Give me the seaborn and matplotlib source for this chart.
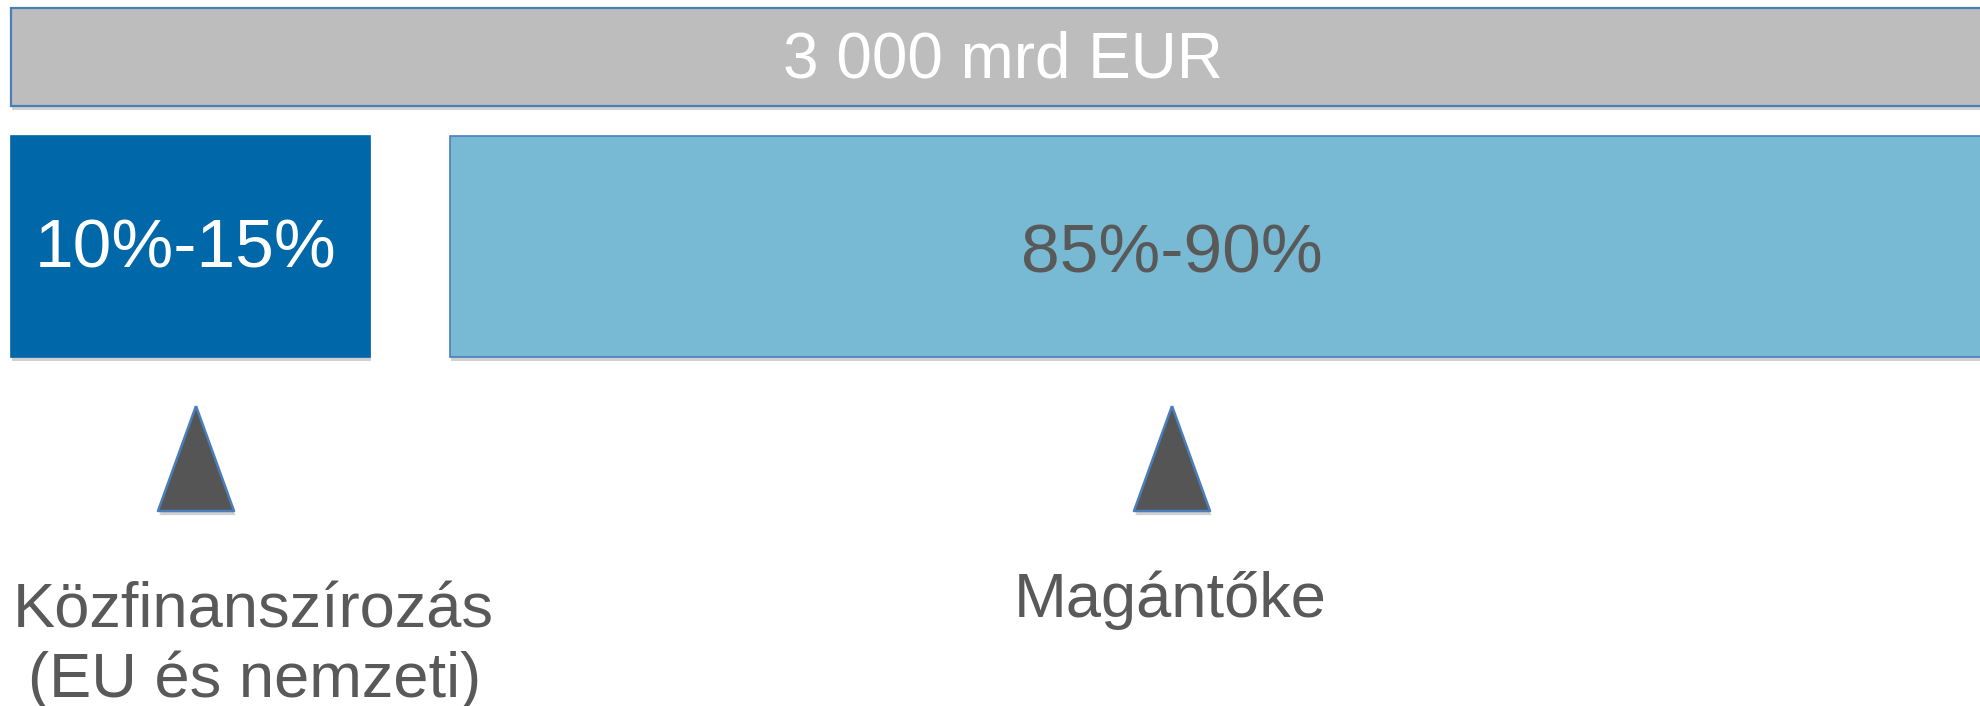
import numpy as np
import matplotlib as mp
import matplotlib.pyplot as plt
import matplotlib.patheffects as pe
from matplotlib.markers import MarkerStyle
import seaborn as sns
sns.set_style("white")
plt.rcParams['font.family'] = ['Liberation Sans', 'DejaVu Sans']

#=======================
# data
total_label = "3 000 mrd EUR"
share_labels = ["10%-15%", "85%-90%"]
source_labels = ["Közfinanszírozás\n(EU és nemzeti)", "Magántőke"]
#=======================
# layout (pixel units, y grows downward)
W, H = 1980, 706
top_bar = (11, 2000, 8, 106)            # x0, x1, y0, y1
block_x0 = [11, 450]
block_x1 = [370, 2000]
block_y0, block_y1 = 136, 357
arrow_x = [196, 1172]
arrow_y = 458.5
label_x = [253, 1170]
label_base = [627, 617]
line_gap = 70

block_colors = ["#0067A8", "#78BAD3"]
block_edges = ["#0067A8", "#4A7EBB"]
share_colors = ["white", "#595959"]
gray = "#BDBDBD"
edge_blue = "#4A7EBB"
txt = "#595959"

shadow = [pe.SimplePatchShadow(offset=(1, -3), shadow_rgbFace='black', alpha=0.18), pe.Normal()]

fig = plt.figure(figsize=(W / 100, H / 100), dpi=100)
ax = fig.add_axes([0, 0, 1, 1])
ax.set_xlim(0, W)
ax.set_ylim(H, 0)
ax.axis('off')

# top bar - total
b = ax.barh((top_bar[2] + top_bar[3]) / 2, top_bar[1] - top_bar[0], left=top_bar[0],
            height=top_bar[3] - top_bar[2], color=gray, edgecolor=edge_blue, linewidth=1.6)
for p in b:
    p.set_path_effects(shadow)
ax.text((top_bar[0] + 1990) / 2 + 2, (top_bar[2] + top_bar[3]) / 2 + 3, total_label,
        color='white', fontsize=46, ha='center', va='center')

# share blocks
yc = (block_y0 + block_y1) / 2
for i in range(2):
    b = ax.barh(yc, block_x1[i] - block_x0[i], left=block_x0[i], height=block_y1 - block_y0,
                color=block_colors[i], edgecolor=block_edges[i], linewidth=1.2)
    for p in b:
        p.set_path_effects(shadow)
cx = [(block_x0[0] + block_x1[0]) / 2 - 5, arrow_x[1]]
cy = [yc + 3, yc + 8]
for i in range(2):
    ax.text(cx[i], cy[i], share_labels[i], color=share_colors[i], fontsize=50,
            ha='center', va='center')

# arrows (triangles)
tri = MarkerStyle([(0, 1), (-0.724, -1), (0.724, -1), (0, 1)])
sc = sns.scatterplot(x=arrow_x, y=[arrow_y] * 2, marker=tri, s=75.6 ** 2, color='#555555',
                     edgecolor=edge_blue, linewidth=1.8, ax=ax, legend=False, zorder=3)
for c in ax.collections:
    c.set_path_effects(shadow)

# source labels
for i, lab in enumerate(source_labels):
    for j, line in enumerate(lab.split('\n')):
        ax.text(label_x[i] + 2 * j, label_base[i] + j * line_gap, line, color=txt,
                fontsize=45.5, ha='center', va='baseline')

ax.set_xlim(0, W)
ax.set_ylim(H, 0)
fig.savefig('out.png', dpi=100, facecolor='white')
